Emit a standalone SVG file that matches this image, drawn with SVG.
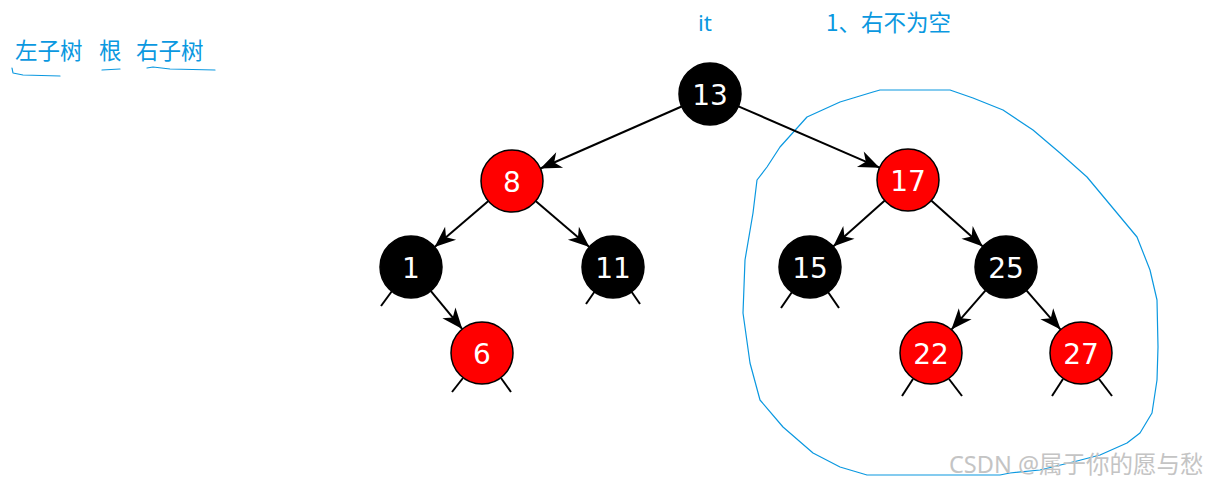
<svg xmlns="http://www.w3.org/2000/svg" width="1209" height="485" viewBox="0 0 1209 485">
<style>
.nb{fill:#000;stroke:#000;stroke-width:1.5}
.nr{fill:#f00;stroke:#000;stroke-width:1.5}
.lbl{font-family:"DejaVu Sans",sans-serif;font-size:28px;fill:#fff;text-anchor:middle;dominant-baseline:central}
.e{stroke:#000;stroke-width:2;fill:none;marker-end:url(#ah)}
.s{stroke:#000;stroke-width:2;fill:none}
.note{font-family:"Noto Sans CJK SC","Noto Sans",sans-serif;font-size:22.5px;fill:#0a98e0}
.ink{stroke:#0a98e0;stroke-width:1.2;fill:none;stroke-linejoin:round;stroke-linecap:round}
</style>
<defs>
<marker id="ah" markerUnits="userSpaceOnUse" markerWidth="26" markerHeight="22" viewBox="-22 -11 24 22" refX="0" refY="0" orient="auto">
<path d="M0,0 L-21,-8.5 L-15,0 L-21,8.5 Z" fill="#000"/>
</marker>
</defs>
<rect width="1209" height="485" fill="#fff"/>
<g id="annotations">
<text class="note" x="15" y="59">左子树</text>
<text class="note" x="99" y="59">根</text>
<text class="note" x="136" y="59">右子树</text>
<path class="ink" d="M12,68 L13,73 L23,75 L60,76"/>
<path class="ink" d="M102,70 L120,69"/>
<path class="ink" d="M147,68 L153,67 L170,69 L215,70"/>
<text class="note" x="698" y="31" style="font-family:'Noto Sans','Noto Sans CJK SC',sans-serif">it</text>
<text class="note" x="826" y="31">1、右不为空</text>
<path class="ink" d="M880,90 L950,90 L973,98 L1003,110 L1033,130 L1060,153 L1087,177 L1117,213 L1137,237 L1150,270 L1157,300 L1158,347 L1157,380 L1152,413 L1140,433 L1127,443 L1100,455 L1077,461 L1040,470 L1010,473 L1000,475 L930,475 L867,475 L840,467 L813,453 L783,427 L760,400 L750,363 L743,313 L745,260 L753,213 L757,180 L767,167 L780,147 L807,117 L840,102 L873,92 Z"/>
</g>
<g id="connectors">
<line class="e" x1="681.6" y1="106.5" x2="540.4" y2="168.5"/>
<line class="e" x1="738.4" y1="106.3" x2="879.6" y2="167.7"/>
<line class="e" x1="488.4" y1="201.1" x2="434.6" y2="246.9"/>
<line class="e" x1="535.6" y1="201.1" x2="589.4" y2="246.9"/>
<line class="e" x1="430.7" y1="290.9" x2="462.3" y2="329.1"/>
<line class="e" x1="884.8" y1="200.6" x2="833.2" y2="246.4"/>
<line class="e" x1="931.2" y1="200.6" x2="982.8" y2="246.4"/>
<line class="e" x1="985.6" y1="290.4" x2="951.4" y2="329.6"/>
<line class="e" x1="1026.4" y1="290.4" x2="1060.6" y2="329.6"/>
<line class="s" x1="392" y1="291" x2="381" y2="306"/>
<line class="s" x1="595" y1="291" x2="586" y2="304"/>
<line class="s" x1="631" y1="291" x2="640" y2="304"/>
<line class="s" x1="792" y1="292" x2="781" y2="308"/>
<line class="s" x1="828" y1="292" x2="839" y2="308"/>
<line class="s" x1="463" y1="378" x2="452" y2="392"/>
<line class="s" x1="501" y1="378" x2="511" y2="392"/>
<line class="s" x1="913" y1="379" x2="902" y2="396"/>
<line class="s" x1="949" y1="379" x2="962" y2="396"/>
<line class="s" x1="1063" y1="379" x2="1052" y2="396"/>
<line class="s" x1="1099" y1="379" x2="1112" y2="396"/>
</g>
<g id="n13"><circle class="nb" cx="710" cy="94" r="31"/><text class="lbl" x="710" y="95">13</text></g>
<g id="n8"><circle class="nr" cx="512" cy="181" r="31"/><text class="lbl" x="512" y="182">8</text></g>
<g id="n17"><circle class="nr" cx="908" cy="180" r="31"/><text class="lbl" x="908" y="181">17</text></g>
<g id="n1"><circle class="nb" cx="411" cy="267" r="31"/><text class="lbl" x="411" y="268">1</text></g>
<g id="n11"><circle class="nb" cx="613" cy="267" r="31"/><text class="lbl" x="613" y="268">11</text></g>
<g id="n15"><circle class="nb" cx="810" cy="267" r="31"/><text class="lbl" x="810" y="268">15</text></g>
<g id="n25"><circle class="nb" cx="1006" cy="267" r="31"/><text class="lbl" x="1006" y="268">25</text></g>
<g id="n6"><circle class="nr" cx="482" cy="353" r="31"/><text class="lbl" x="482" y="354">6</text></g>
<g id="n22"><circle class="nr" cx="931" cy="353" r="31"/><text class="lbl" x="931" y="354">22</text></g>
<g id="n27"><circle class="nr" cx="1081" cy="353" r="31"/><text class="lbl" x="1081" y="354">27</text></g>
<text x="949" y="473" style="font-family:'Noto Sans','Noto Sans CJK SC',sans-serif;font-size:23.5px;fill:#c4c4c4">CSDN @属于你的愿与愁</text>
</svg>
